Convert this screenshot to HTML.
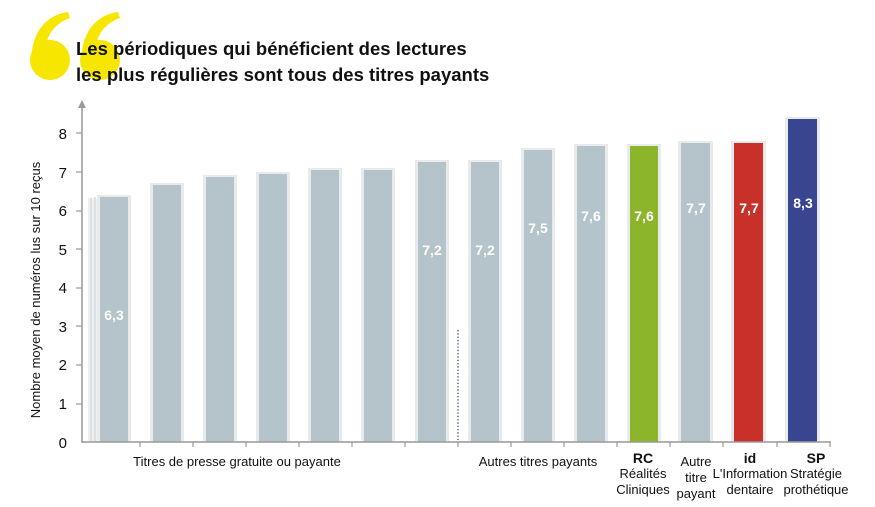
<!DOCTYPE html>
<html><head><meta charset="utf-8"><style>
body{margin:0;background:#fff;}
svg{display:block;}
text{font-family:"Liberation Sans Narrow","Liberation Sans",sans-serif;}
</style></head><body>
<svg width="875" height="507" viewBox="0 0 875 507" xmlns="http://www.w3.org/2000/svg">
<!-- quote marks -->
<g fill="#f7e600">
<circle cx="50" cy="60" r="20"/>
<path d="M32 62 C30 35 45 15 68 12 L70 18 C52 24 44 40 46 55 Z"/>
<circle cx="100" cy="60" r="20"/>
<path d="M82 62 C80 35 95 15 118 12 L120 18 C102 24 94 40 96 55 Z"/>
</g>
<text x="76" y="55" font-family="Liberation Sans" font-weight="bold" font-size="18.5" fill="#111" style="font-family:'Liberation Sans',sans-serif">Les périodiques qui bénéficient des lectures</text>
<text x="76" y="81" font-weight="bold" font-size="18.5" fill="#111" style="font-family:'Liberation Sans',sans-serif">les plus régulières sont tous des titres payants</text>
<!-- y axis -->
<line x1="82" y1="102" x2="82" y2="443" stroke="#999" stroke-width="1.5"/>
<path d="M78 108 L82 100 L86 108 Z" fill="#999"/>
<g font-size="15" fill="#111" text-anchor="end" style="font-family:'Liberation Sans',sans-serif">
<text x="67" y="139">8</text><text x="67" y="178">7</text><text x="67" y="216">6</text><text x="67" y="255">5</text><text x="67" y="293">4</text><text x="67" y="332">3</text><text x="67" y="370">2</text><text x="67" y="409">1</text><text x="67" y="448">0</text>
</g>
<g stroke="#999" stroke-width="1.2">
<line x1="76" y1="133" x2="82" y2="133"/><line x1="76" y1="172" x2="82" y2="172"/><line x1="76" y1="211" x2="82" y2="211"/><line x1="76" y1="249" x2="82" y2="249"/><line x1="76" y1="288" x2="82" y2="288"/><line x1="76" y1="326" x2="82" y2="326"/><line x1="76" y1="365" x2="82" y2="365"/><line x1="76" y1="404" x2="82" y2="404"/>
</g>
<text transform="translate(40,290) rotate(-90)" font-size="13" fill="#111" text-anchor="middle">Nombre moyen de numéros lus sur 10 reçus</text>
<!-- bars -->
<g>
<rect x="88" y="198" width="40" height="244" fill="#eef0f1"/>
<line x1="91" y1="198" x2="91" y2="442" stroke="#c8d0d4"/><line x1="95" y1="197" x2="95" y2="442" stroke="#c8d0d4"/>
</g>
<g fill="#e8eaeb">
<rect x="97" y="195" width="34" height="247"/><rect x="150" y="183" width="34" height="259"/><rect x="203" y="175" width="34" height="267"/><rect x="256" y="172" width="34" height="270"/><rect x="308" y="168" width="34" height="274"/><rect x="361" y="168" width="34" height="274"/><rect x="415" y="160" width="34" height="282"/><rect x="468" y="160" width="34" height="282"/><rect x="521" y="148" width="34" height="294"/><rect x="574" y="144" width="34" height="298"/><rect x="627" y="144" width="34" height="298"/><rect x="678" y="141" width="35" height="301"/><rect x="731" y="141" width="35" height="301"/><rect x="785" y="117" width="35" height="325"/>
</g>
<g fill="#b5c3ca">
<rect x="100" y="197" width="28" height="245"/>
<rect x="153" y="185" width="28" height="257"/>
<rect x="206" y="177" width="28" height="265"/>
<rect x="259" y="174" width="28" height="268"/>
<rect x="311" y="170" width="28" height="272"/>
<rect x="364" y="170" width="28" height="272"/>
<rect x="418" y="162" width="28" height="280"/>
<rect x="471" y="162" width="28" height="280"/>
<rect x="524" y="150" width="28" height="292"/>
<rect x="577" y="146" width="28" height="296"/>
<rect x="681" y="143" width="29" height="299"/>
</g>
<rect x="630" y="146" width="28" height="296" fill="#8db52c"/>
<rect x="734" y="143" width="29" height="299" fill="#c8312a"/>
<rect x="788" y="119" width="29" height="323" fill="#3a4592"/>
<g font-size="14" font-weight="bold" fill="#fff" text-anchor="middle" style="font-family:'Liberation Sans',sans-serif">
<text x="114" y="320">6,3</text>
<text x="432" y="255">7,2</text>
<text x="485" y="255">7,2</text>
<text x="538" y="233">7,5</text>
<text x="591" y="221">7,6</text>
<text x="644" y="221">7,6</text>
<text x="696" y="213">7,7</text>
<text x="749" y="213">7,7</text>
<text x="803" y="208">8,3</text>
</g>
<line x1="458" y1="330" x2="458" y2="440" stroke="#3a4592" stroke-width="1.3" stroke-dasharray="1.3 2"/>
<!-- x axis -->
<line x1="82" y1="442" x2="831" y2="442" stroke="#999" stroke-width="1.5"/>
<g stroke="#999" stroke-width="1.2">
<line x1="140" y1="442" x2="140" y2="447"/><line x1="193" y1="442" x2="193" y2="447"/><line x1="246" y1="442" x2="246" y2="447"/><line x1="299" y1="442" x2="299" y2="447"/><line x1="352" y1="442" x2="352" y2="447"/><line x1="405" y1="442" x2="405" y2="447"/><line x1="458" y1="442" x2="458" y2="447"/><line x1="511" y1="442" x2="511" y2="447"/><line x1="564" y1="442" x2="564" y2="447"/><line x1="617" y1="442" x2="617" y2="447"/><line x1="670" y1="442" x2="670" y2="447"/><line x1="723" y1="442" x2="723" y2="447"/><line x1="777" y1="442" x2="777" y2="447"/><line x1="830" y1="442" x2="830" y2="447"/>
</g>
<g font-size="13" fill="#111" text-anchor="middle">
<text x="237" y="466">Titres de presse gratuite ou payante</text>
<text x="538" y="466">Autres titres payants</text>
<text x="643" y="463" font-weight="bold" font-size="14">RC</text>
<text x="643" y="478">Réalités</text>
<text x="643" y="494">Cliniques</text>
<text x="696" y="466">Autre</text>
<text x="696" y="482">titre</text>
<text x="696" y="498">payant</text>
<text x="750" y="463" font-weight="bold" font-size="14">id</text>
<text x="750" y="478">L'Information</text>
<text x="750" y="494">dentaire</text>
<text x="816" y="463" font-weight="bold" font-size="14">SP</text>
<text x="816" y="478">Stratégie</text>
<text x="816" y="494">prothétique</text>
</g>
</svg>
</body></html>
